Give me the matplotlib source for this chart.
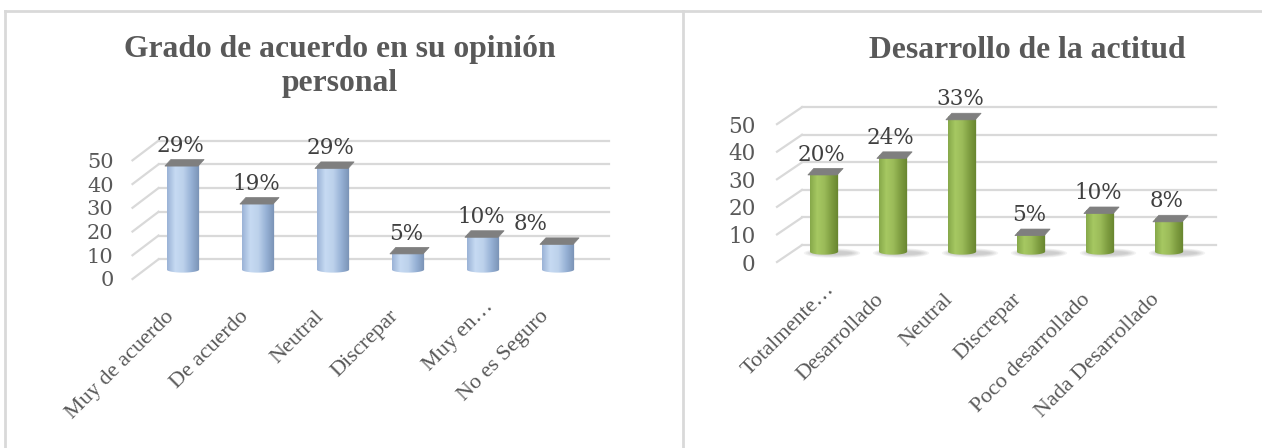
import numpy as np
import matplotlib
matplotlib.use('Agg')
import matplotlib.pyplot as plt
from matplotlib.colors import LinearSegmentedColormap
from matplotlib.path import Path
from matplotlib.patches import PathPatch, Polygon, Ellipse
from matplotlib.lines import Line2D
from matplotlib.transforms import ScaledTranslation

W, H, DPI = 1262, 448, 100

left_title = 'Grado de acuerdo en su opinión\npersonal'
left_cats = ['Muy de acuerdo', 'De acuerdo', 'Neutral', 'Discrepar', 'Muy en…', 'No es Seguro']
left_vals = [45, 29, 44, 8, 15, 12]
left_pcts = ['29%', '19%', '29%', '5%', '10%', '8%']

right_title = 'Desarrollo de la actitud'
right_cats = ['Totalmente…', 'Desarrollado', 'Neutral', 'Discrepar', 'Poco desarrollado', 'Nada Desarrollado']
right_vals = [29, 35, 49, 7, 15, 12]
right_pcts = ['20%', '24%', '33%', '5%', '10%', '8%']

yticks = [0, 10, 20, 30, 40, 50]

blue = LinearSegmentedColormap.from_list('blue', ['#9ab2d6', '#c6daf2', '#bcd1eb', '#95b0d4', '#7890b3'])
green = LinearSegmentedColormap.from_list('green', ['#86a84a', '#a6c862', '#9bbb59', '#7e9d40', '#66832e'])

GRID = '#d9d9d9'
TXT = '#595959'

fig = plt.figure(figsize=(W / DPI, H / DPI), dpi=DPI)


def px_axes(x0, x1, y_base, y_top):
    ax = fig.add_axes([x0 / W, 1 - y_base / H, (x1 - x0) / W, (y_base - y_top) / H])
    for s in ax.spines.values():
        s.set_visible(False)
    ax.patch.set_visible(False)
    return ax


def draw_chart(ax, cats, vals, pcts, cmap, ppc, ppu, back, front, bar_w, ypad, shadow, nudge, tick_fs):
    n = len(cats)
    bx, by = back[0] / ppc, back[1] / ppu
    fx, fy = front[0] / ppc, front[1] / ppu

    # back wall gridlines and side diagonals
    for v in yticks:
        ax.plot([-0.5 + bx, n - 0.5 + bx], [v + by, v + by], color=GRID, lw=1.6, clip_on=False, zorder=1)
        ax.plot([-0.5 + fx, -0.5 + bx], [v + fy, v + by], color=GRID, lw=1.6, clip_on=False, zorder=1)

    e = 3.2 / ppu
    hw = bar_w / 2
    t = np.linspace(np.pi, 2 * np.pi, 30)
    grad = np.linspace(0, 1, 128).reshape(1, -1)
    for i, v in enumerate(vals):
        if shadow:
            for k in range(5):
                ax.add_patch(Ellipse((i + 8 / ppc, -1.5 / ppu), bar_w + (28 - 4 * k) / ppc, (10 - 1.5 * k) / ppu,
                                     color='#7f7f7f', alpha=0.09, lw=0, clip_on=False, zorder=2))
        verts = [(i - hw, v), (i - hw, 0)]
        verts += list(zip(i + hw * np.cos(t), e * np.sin(t)))
        verts += [(i + hw, 0), (i + hw, v), (i - hw, v)]
        clip = PathPatch(Path(verts, closed=True), transform=ax.transData)
        im = ax.imshow(grad, cmap=cmap, extent=(i - hw, i + hw, -e, v), aspect='auto', origin='lower',
                       interpolation='bilinear', zorder=3)
        im.set_clip_path(clip)
        im.set_clip_box(None)
        # top cap
        p = 1 / ppc
        q = 3.5 / ppu
        cap = Polygon([(i - hw - 2 * p, v - q), (i + hw - 1 * p, v - q),
                       (i + hw + 5 * p, v + q), (i - hw + 4 * p, v + q)],
                      closed=True, facecolor='#7f7f7f', edgecolor='#7f7f7f', lw=0.5, zorder=4, clip_on=False)
        ax.add_patch(cap)
        ax.annotate(pcts[i], (i, v), xytext=(-1.5 + nudge.get(i, 0), 8), textcoords='offset points',
                    ha='center', va='baseline', fontsize=15.5, family='DejaVu Serif', color='#404040',
                    annotation_clip=False, zorder=5)

    ax.set_xlim(-0.5, n - 0.5)
    ax.set_ylim(0, 60)
    ax.set_yticks([v + fy for v in yticks])
    ax.set_yticklabels([str(v) for v in yticks], fontsize=tick_fs, family='DejaVu Serif', color=TXT)
    ax.tick_params(axis='y', length=0, pad=ypad)
    ax.set_xticks(range(n))
    ax.set_xticklabels(cats, rotation=45, ha='right', va='center', rotation_mode='anchor',
                       fontsize=16, family='Liberation Serif', color=TXT)
    ax.tick_params(axis='x', length=0, pad=25)
    for lbl in ax.get_xticklabels():
        dx, dy = (-12, 0)
        if lbl.get_text().endswith('…'):
            dx, dy = (8, 10)
        lbl.set_transform(lbl.get_transform() + ScaledTranslation(dx / DPI, dy / DPI, fig.dpi_scale_trans))


ax1 = px_axes(145.5, 595.5, 279, 279 - 60 * 2.53)
draw_chart(ax1, left_cats, left_vals, left_pcts, blue, 75, 2.53, (13, 11), (-13, -10), 0.43, 23,
           False, {5: -18}, 15)

ax2 = px_axes(789.5, 1203.5, 262, 262 - 60 * 2.93)
draw_chart(ax2, right_cats, right_vals, right_pcts, green, 69, 2.93, (12.5, 7), (-12.5, -11), 0.41, 24.5,
           True, {}, 15.5)

fig.text(340 / W, 1 - 35 / H, left_title, ha='center', va='top', fontsize=22.8, fontweight='bold',
         family='Liberation Serif', color=TXT, linespacing=1.22)
fig.text(1027 / W, 1 - 58 / H, right_title, ha='center', va='baseline', fontsize=22.8, fontweight='bold',
         family='Liberation Serif', color=TXT)

# chart frames
for xs, ys in [([5, W], [11, 11]), ([5, 5], [11, H]), ([683, 683], [11, H])]:
    fig.add_artist(Line2D([x / W for x in xs], [1 - y / H for y in ys], transform=fig.transFigure,
                          color=GRID, lw=2))

fig.savefig('out.png', dpi=DPI)
